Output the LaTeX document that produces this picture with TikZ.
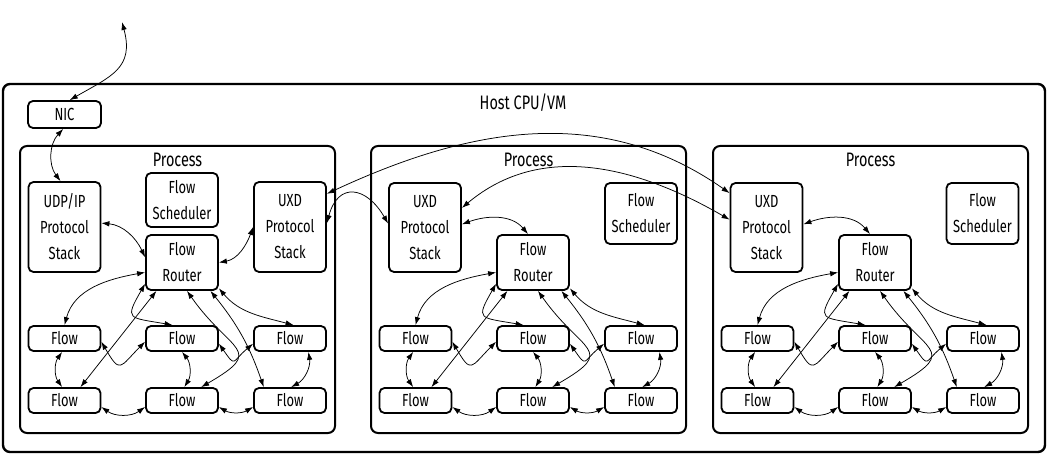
\documentclass[tikz,border=0pt]{standalone}
\usepackage{fontspec}
\setmainfont{Fira Sans}[FakeStretch=0.74]
\usetikzlibrary{arrows.meta}

\begin{document}
\begin{tikzpicture}[x=1pt, y=1pt,
    box/.style={draw, rounded corners=5pt, line width=1.8pt, minimum width=72pt,
                minimum height=25pt, inner sep=2pt, align=center,
                font=\fontsize{17.5}{26}\selectfont},
    frame/.style={draw, rounded corners=7pt, line width=2pt},
    title/.style={font=\fontsize{19.5}{24}\selectfont},
    arr/.style={<->, >={Latex[length=8pt, width=5.5pt]}, line width=0.75pt}
  ]
  \useasboundingbox (0,0) rectangle (1048,-454);

  % Host
  \node[frame, line width=2.4pt, minimum width=1042pt, minimum height=368pt] (host)
    at (524,-268) {};
  \node[title] (hostlbl) at (523,-103) {Host CPU/VM};
  \node[box, minimum width=73pt, minimum height=27pt] (nic) at (64.5,-114.5) {NIC};
  \coordinate (net) at (122,-22);

  % Processes
  \foreach \p/\px in {a/177.5, b/528.5, c/870.5} {
    \node[frame, minimum width=315pt, minimum height=287pt] (\p) at (\px,-289.5) {};
    \node[title] (\p-title) at (\px,-160) {Process};
  }

  % Router and flows, the same in every process
  \foreach \p/\dx in {a/0, b/351, c/693} {
    \begin{scope}[xshift=\dx pt, name prefix=\p-]
      \node[box, minimum height=55pt] (r) at (182,-262.5) {Flow\\Router};
      \node[box] (f11) at (64.5,-338.5) {Flow};
      \node[box] (f12) at (182,-338.5) {Flow};
      \node[box] (f13) at (290,-338.5) {Flow};
      \node[box] (f21) at (64.5,-400.5) {Flow};
      \node[box] (f22) at (182,-400.5) {Flow};
      \node[box] (f23) at (290,-400.5) {Flow};

      \draw[arr] (r.195) to[out=190, in=75] (f11.north);
      \draw[arr] (r.210) .. controls +(240:42) and +(170:45) .. (f12.125);
      \draw[arr] (r.228) -- (f21.40);
      \draw[arr] (r.-80) to[out=-55, in=30, looseness=2] (f22.35);
      \draw[arr] (r.-45) to[bend left=10] (f23.153);
      \draw[arr] (r.-35) to[out=-50, in=165] (f13.75);
      \draw[arr] (f11.-5) .. controls +(-60:38) and +(225:36) .. (f12.185);
      \draw[arr] (f12.-8) .. controls +(-55:30) and +(220:28) .. (f13.188);
      \draw[arr] (f11.-100) to[bend right=35] (f21.100);
      \draw[arr] (f12.-90) to[bend left=35] (f22.80);
      \draw[arr] (f13.-36) to[bend left=35] (f23.85);
      \draw[arr] (f21.-10) to[bend right=35] (f22.190);
      \draw[arr] (f22.-10) to[bend right=30] (f23.190);
    \end{scope}
  }

  % First process
  \node[box, minimum height=90pt] (a-udp) at (64.5,-227) {UDP/IP\\Protocol\\Stack};
  \node[box, minimum height=54pt] (a-sched) at (182,-200) {Flow\\Scheduler};
  \node[box, minimum height=90pt] (a-uxd) at (290,-227) {UXD\\Protocol\\Stack};

  \draw[arr] (a-udp.6) to[out=-5, in=115] (a-r.172);
  \draw[arr] (a-r.east) to[out=10, in=250] (a-uxd.west);

  % Other processes
  \foreach \p/\dx in {b/0, c/341.5} {
    \begin{scope}[xshift=\dx pt, name prefix=\p-]
      \node[box, minimum height=89pt] (uxd) at (425,-227.5) {UXD\\Protocol\\Stack};
      \node[box, minimum height=61pt] (sched) at (641,-213.5) {Flow\\Scheduler};
      \draw[arr] (uxd.5) to[out=20, in=130] (r.100);
    \end{scope}
  }

  % Links
  \draw[arr] (net) to[out=-75, in=30, looseness=1.3] (nic.70);
  \draw[arr] (nic.-95) to[bend right=40] (a-udp.95);
  \draw[arr] (a-uxd.42) to[out=25, in=145] (c-uxd.137);
  \draw[arr] (a-uxd.6) to[out=75, in=120, looseness=1.8] (b-uxd.174);
  \draw[arr] (b-uxd.28) to[out=40, in=150] (c-uxd.168);
\end{tikzpicture}
\end{document}
